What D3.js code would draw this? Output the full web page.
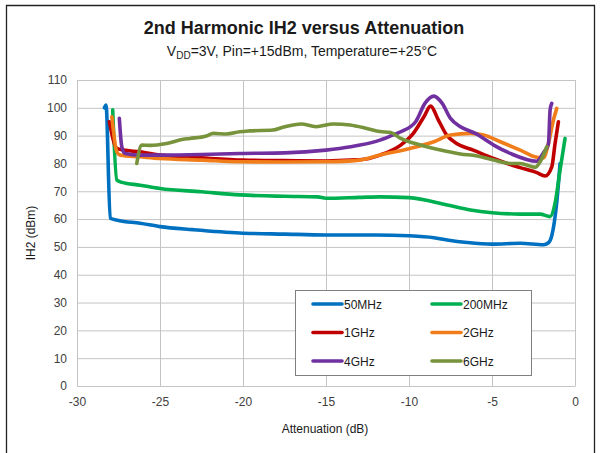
<!DOCTYPE html>
<html>
<head>
<meta charset="utf-8">
<script src="https://cdn.jsdelivr.net/npm/d3@7/dist/d3.min.js"></script>
<style>
  body { margin: 0; background: #fff; }
  svg { display: block; font-family: "Liberation Sans", Arial, sans-serif; }
</style>
</head>
<body>
<svg id="chart" width="600" height="453"></svg>
<script>
// ---- data ----
const xTicks = [-30, -25, -20, -15, -10, -5, 0];
const yTicks = [0, 10, 20, 30, 40, 50, 60, 70, 80, 90, 100, 110];

const seriesNames = ["50MHz", "200MHz", "1GHz", "2GHz", "4GHz", "6GHz"];
const seriesColors = ["#0070C0", "#00B050", "#C00000", "#F07D1A", "#7030A0", "#77933C"];

const att50 = [-28.35,-28.25,-28.0,-27.5,-26.2,-25,-23,-20.2,-17.5,-15,-12,-10,-8.5,-7.7,-6.5,-5,-3.3,-1.9,-1.6,-1.4,-1.1,-0.9];
const ih50  = [100,101,60.3,59.5,58.5,57.3,56.2,55.0,54.6,54.3,54.3,54.0,53.3,52.5,51.6,51.0,51.3,50.8,51.5,54,66,80];

const att200 = [-27.85,-27.6,-27.3,-26.2,-25,-22.5,-20.2,-17.5,-15.5,-15,-13,-11.75,-10,-7.7,-6.3,-5,-3.3,-2.1,-1.5,-1.2,-0.9,-0.6];
const ih200  = [99.3,74.0,73.2,72.2,71.0,69.8,68.7,68.2,68.0,67.5,67.8,68.0,67.7,65.1,63.3,62.3,61.8,61.8,60.9,65.7,77.6,89];

const att1g = [-28.05,-27.6,-27.2,-26.2,-25,-22.5,-20,-17.5,-15,-13.5,-12.5,-11.75,-10.5,-9.74,-9.1,-8.7,-8.23,-7.73,-7.13,-6.13,-4.9,-3.9,-3.3,-2.3,-1.8,-1.4,-1.2,-1.0];
const ih1g  = [95,85.4,84.8,84.2,83.0,82.0,81.2,81.0,80.9,81.2,81.7,83.0,86.6,90.8,96.8,100.6,95.6,90.2,87.2,84.8,81.8,79.6,78.5,76.7,75.5,78.8,87.2,95];

const att2g = [-27.9,-27.6,-27.4,-26.2,-25,-22.5,-20.2,-17.5,-15,-13,-11.75,-9.94,-8.5,-7.5,-6.3,-5.5,-4.5,-3.3,-2.3,-1.9,-1.6,-1.3,-1.1];
const ih2g  = [96.8,84.2,83.0,82.4,81.8,81.2,80.6,80.5,80.6,81.2,83.0,85.4,87.8,90.2,90.8,90.2,87.8,84.8,82.2,82.0,87.2,95.6,99.8];

const att4g = [-27.45,-27.3,-27.1,-26.2,-25,-22.5,-20.2,-17.5,-15,-13.5,-12.95,-11.75,-11.1,-10.5,-9.6,-9.04,-8.5,-8.0,-7.5,-6.9,-6.0,-4.9,-3.9,-2.3,-1.9,-1.6,-1.5,-1.4];
const ih4g  = [96.2,86,83.6,83.0,83.0,83.2,83.6,83.8,84.8,86.0,86.6,88.4,89.9,91.4,95,101.6,104.2,101.6,96.2,93.2,90.8,86.6,83.6,80.8,83.9,87,99.2,101.6];

const att6g = [-26.4,-26.1,-25.6,-24.6,-23.6,-23.2,-22.2,-21.8,-21.0,-20.2,-19.6,-18.2,-17.6,-16.5,-15.6,-14.55,-13.55,-12.55,-11.75,-11.1,-10.5,-9.3,-8.1,-6.9,-5.9,-4.9,-3.9,-3.3,-2.4,-2.1,-1.7];
const ih6g  = [80,86.6,86.5,87.2,88.7,89.0,89.9,90.8,90.6,91.4,91.7,92.0,93.0,94.2,93.2,94.2,93.8,92.6,91.5,91.1,89.0,86.6,84.8,83.4,82.7,81.2,80,80,78.6,80.6,86.0];

const seriesX = [att50, att200, att1g, att2g, att4g, att6g];
const seriesY = [ih50, ih200, ih1g, ih2g, ih4g, ih6g];

// ---- layout ----
const svg = d3.select("#chart");
const L = 77, R = 575, T = 80, B = 386;
const x = d3.scaleLinear().domain([-30, 0]).range([L, R]);
const y = d3.scaleLinear().domain([0, 110]).range([B, T]);
const gridColor = "#c4c4c4";
const textColor = "#404040";

// outer frame
svg.append("path").attr("d", "M6.5,460 L6.5,5.5 L594.5,5.5 L594.5,460")
  .attr("fill", "none").attr("stroke", "#222").attr("stroke-width", 1.3);

// titles
svg.append("text").attr("x", 304).attr("y", 34).attr("text-anchor", "middle")
  .attr("font-size", 18).attr("font-weight", "bold").attr("fill", "#1a1a1a")
  .text("2nd Harmonic IH2 versus Attenuation");
const sub = svg.append("text").attr("x", 302).attr("y", 56).attr("text-anchor", "middle")
  .attr("font-size", 14).attr("fill", "#1a1a1a");
sub.append("tspan").text("V");
sub.append("tspan").attr("font-size", 10).attr("dy", 3).text("DD");
sub.append("tspan").attr("dy", -3).text("=3V, Pin=+15dBm, Temperature=+25°C");

// grid + axes
const fmt = d => String(d);
const gx = svg.append("g").attr("transform", `translate(0,${B})`)
  .call(d3.axisBottom(x).tickValues(xTicks).tickFormat(fmt).tickSize(-(B - T)).tickSizeOuter(0).tickPadding(11));
gx.select(".domain").attr("stroke", gridColor);
gx.selectAll(".tick line").attr("stroke", gridColor);
gx.selectAll(".tick text").attr("font-size", 12).attr("fill", textColor)
  .attr("font-family", "Liberation Sans, Arial, sans-serif");

const gy = svg.append("g").attr("transform", `translate(${L},0)`)
  .call(d3.axisLeft(y).tickValues(yTicks).tickFormat(fmt).tickSize(-(R - L)).tickSizeOuter(0).tickPadding(10));
gy.select(".domain").attr("stroke", gridColor);
gy.selectAll(".tick line").attr("stroke", gridColor);
gy.selectAll(".tick text").attr("font-size", 12).attr("fill", textColor)
  .attr("font-family", "Liberation Sans, Arial, sans-serif");

// axis titles
svg.append("text").attr("x", (L + R) / 2 - 1).attr("y", 433).attr("text-anchor", "middle")
  .attr("font-size", 12).attr("fill", "#1a1a1a").text("Attenuation (dB)");
svg.append("text").attr("transform", "translate(35,233) rotate(-90)").attr("text-anchor", "middle")
  .attr("font-size", 12).attr("fill", "#1a1a1a").text("IH2 (dBm)");

// lines
const line = d3.line().x(d => x(d[0])).y(d => y(d[1])).curve(d3.curveMonotoneX);
seriesNames.forEach((name, i) => {
  const pts = seriesX[i].map((v, j) => [v, seriesY[i][j]]);
  svg.append("path").datum(pts).attr("d", line)
    .attr("fill", "none").attr("stroke", seriesColors[i])
    .attr("stroke-width", 3.6).attr("stroke-linejoin", "round").attr("stroke-linecap", "round");
});

// legend
const lg = svg.append("g");
lg.append("rect").attr("x", 295.5).attr("y", 290.5).attr("width", 236).attr("height", 85)
  .attr("fill", "#fff").attr("stroke", "#7f7f7f").attr("stroke-width", 1);
seriesNames.forEach((name, i) => {
  const col = i % 2, row = Math.floor(i / 2);
  const lx = 313 + col * 119, ly = 304 + row * 28.5;
  lg.append("line").attr("x1", lx).attr("x2", lx + 29).attr("y1", ly).attr("y2", ly)
    .attr("stroke", seriesColors[i]).attr("stroke-width", 3.6).attr("stroke-linecap", "round");
  lg.append("text").attr("x", lx + 31).attr("y", ly + 4.5).attr("font-size", 12)
    .attr("fill", "#1a1a1a").text(name);
});
</script>
</body>
</html>
